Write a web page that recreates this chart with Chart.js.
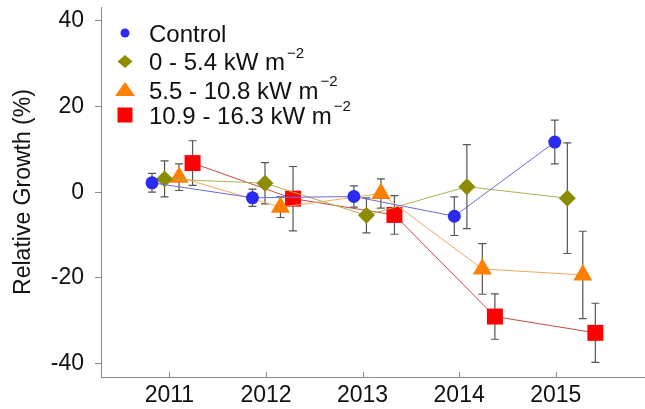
<!DOCTYPE html>
<html>
<head>
<meta charset="utf-8">
<script src="https://cdn.jsdelivr.net/npm/chart.js@4/dist/chart.umd.min.js"></script>
<style>
  html, body { margin: 0; padding: 0; background: #fff; }
  #wrap { width: 645px; height: 409px; position: relative; }
</style>
</head>
<body>
<div id="wrap"><canvas id="growthChart"></canvas></div>
<script>
// data
const years = [2011, 2012, 2013, 2014, 2015];
const yTicks = [-40, -20, 0, 20, 40];
const seriesLabels = ['Control', '0 - 5.4 kW m', '5.5 - 10.8 kW m', '10.9 - 16.3 kW m'];

// x positions (dodged around each year)
const controlX = [2010.82, 2011.86, 2012.91, 2013.95, 2014.99];
const lowX     = [2010.95, 2011.99, 2013.04, 2014.08, 2015.12];
const midX     = [2011.10, 2012.15, 2013.19, 2014.24, 2015.28];
const highX    = [2011.24, 2012.28, 2013.33, 2014.37, 2015.41];

const controlY = [2.2, -1.3, -1.0, -5.6, 11.7];
const lowY     = [3.1, 2.1, -5.4, 1.3, -1.4];
const midY     = [3.5, -3.5, -0.3, -17.9, -19.3];
const highY    = [6.8, -1.5, -5.3, -29.0, -32.8];

const controlErr = [2.2, 2.0, 2.5, 4.5, 5.1];
const lowErr     = [4.2, 4.8, 4.1, 9.8, 12.9];
const midErr     = [3.1, 2.4, 3.4, 5.9, 10.2];
const highErr    = [5.2, 7.5, 4.5, 5.3, 6.9];

const FONT = '"Liberation Sans", Arial, sans-serif';

function pts(xs, ys) {
    return xs.map((x, i) => ({ x: x, y: ys[i] }));
}

const styles = [
    { fill: '#2a2af0', line: '#6c6cd8', shape: 'circle', r: 6.5 },
    { fill: '#8c8c00', line: '#b0b050', shape: 'rectRot', r: 8.5 },
    { fill: '#ff8000', line: '#f0a860', shape: 'triangle', r: 11 },
    { fill: '#ff0000', line: '#c84848', shape: 'rect', r: 11.3 }
];
const allX = [controlX, lowX, midX, highX];
const allY = [controlY, lowY, midY, highY];
const allErr = [controlErr, lowErr, midErr, highErr];

const datasets = seriesLabels.map((lab, i) => ({
    label: lab,
    data: pts(allX[i], allY[i]),
    borderColor: styles[i].line,
    borderWidth: 1,
    backgroundColor: styles[i].fill,
    pointStyle: styles[i].shape,
    pointRadius: styles[i].r,
    pointBackgroundColor: styles[i].fill,
    pointBorderWidth: 0,
    pointHoverRadius: styles[i].r,
    showLine: true,
    tension: 0
}));

// error bars, drawn under the markers
const errorBars = {
    id: 'errorBars',
    beforeDatasetsDraw(chart) {
        const ctx = chart.ctx;
        const ys = chart.scales.y;
        ctx.save();
        ctx.strokeStyle = '#555';
        ctx.lineWidth = 1.2;
        chart.data.datasets.forEach((ds, di) => {
            const meta = chart.getDatasetMeta(di);
            meta.data.forEach((pt, i) => {
                const v = ds.data[i].y, e = allErr[di][i];
                const top = ys.getPixelForValue(v + e);
                const bot = ys.getPixelForValue(v - e);
                ctx.beginPath();
                ctx.moveTo(pt.x, top); ctx.lineTo(pt.x, bot);
                ctx.moveTo(pt.x - 4, top); ctx.lineTo(pt.x + 4, top);
                ctx.moveTo(pt.x - 4, bot); ctx.lineTo(pt.x + 4, bot);
                ctx.stroke();
            });
        });
        ctx.restore();
    }
};

// inward tick marks on the year axis
const innerTicks = {
    id: 'innerTicks',
    afterDraw(chart) {
        const ctx = chart.ctx;
        const xs = chart.scales.x;
        const b = chart.chartArea.bottom;
        ctx.save();
        ctx.strokeStyle = '#888';
        ctx.lineWidth = 1;
        years.forEach(yr => {
            const px = Math.round(xs.getPixelForValue(yr)) + 0.5;
            ctx.beginPath();
            ctx.moveTo(px, b - 5);
            ctx.lineTo(px, b);
            ctx.stroke();
        });
        ctx.restore();
    }
};

function legendMarker(ctx, shape, x, y) {
    ctx.beginPath();
    if (shape === 'circle') {
        ctx.arc(x, y, 4.5, 0, Math.PI * 2);
    } else if (shape === 'rectRot') {
        ctx.moveTo(x - 7.5, y); ctx.lineTo(x, y - 6.5);
        ctx.lineTo(x + 7.5, y); ctx.lineTo(x, y + 6.5);
    } else if (shape === 'triangle') {
        ctx.moveTo(x, y - 8); ctx.lineTo(x + 10, y + 6); ctx.lineTo(x - 10, y + 6);
    } else {
        ctx.rect(x - 7.5, y - 7.5, 15, 15);
    }
    ctx.closePath();
    ctx.fill();
}

const plotLegend = {
    id: 'plotLegend',
    afterDraw(chart) {
        const ctx = chart.ctx;
        const rowsY = [35, 63.5, 92, 117];
        ctx.save();
        ctx.textBaseline = 'middle';
        ctx.textAlign = 'left';
        seriesLabels.forEach((lab, i) => {
            const y = rowsY[i];
            ctx.fillStyle = styles[i].fill;
            legendMarker(ctx, styles[i].shape, 125, y - 2);
            ctx.fillStyle = '#111';
            ctx.font = '24px ' + FONT;
            ctx.fillText(lab, 149, y);
            if (i > 0) {
                const w = ctx.measureText(lab).width;
                ctx.font = '15px ' + FONT;
                ctx.fillText('\u22122', 149 + w + 2, y - 10);
            }
        });
        ctx.restore();
    }
};

new Chart(document.getElementById('growthChart'), {
    type: 'scatter',
    data: { datasets: datasets },
    plugins: [errorBars, innerTicks, plotLegend],
    options: {
        responsive: true,
        maintainAspectRatio: false,
        animation: false,
        events: [],
        layout: { autoPadding: false, padding: { top: 7, right: 0, bottom: 0, left: 0 } },
        plugins: {
            legend: { display: false },
            tooltip: { enabled: false }
        },
        scales: {
            x: {
                type: 'linear',
                min: 2010.292,
                max: 2015.924,
                afterBuildTicks: s => { s.ticks = years.map(v => ({ value: v })); },
                afterFit: s => { s.height = 32; s.paddingLeft = 0; s.paddingRight = 0; },
                grid: { display: false },
                border: { display: true, color: '#888', width: 1 },
                ticks: {
                    color: '#111',
                    font: { family: FONT, size: 23 },
                    padding: -3,
                    maxRotation: 0,
                    autoSkip: false,
                    callback: v => String(v)
                }
            },
            y: {
                min: -43.1,
                max: 43.2,
                afterBuildTicks: s => { s.ticks = yTicks.map(v => ({ value: v })); },
                afterFit: s => { s.width = 101; s.paddingTop = 0; s.paddingBottom = 0; },
                grid: {
                    display: true,
                    drawOnChartArea: false,
                    drawTicks: true,
                    tickLength: 6,
                    color: '#888'
                },
                border: { display: true, color: '#888', width: 1 },
                title: {
                    display: true,
                    text: 'Relative Growth (%)',
                    color: '#111',
                    font: { family: FONT, size: 23 },
                    padding: { top: 10, bottom: 0 }
                },
                ticks: {
                    color: '#111',
                    font: { family: FONT, size: 23 },
                    padding: 11,
                    callback: v => String(v)
                }
            }
        }
    }
});
</script>
</body>
</html>
